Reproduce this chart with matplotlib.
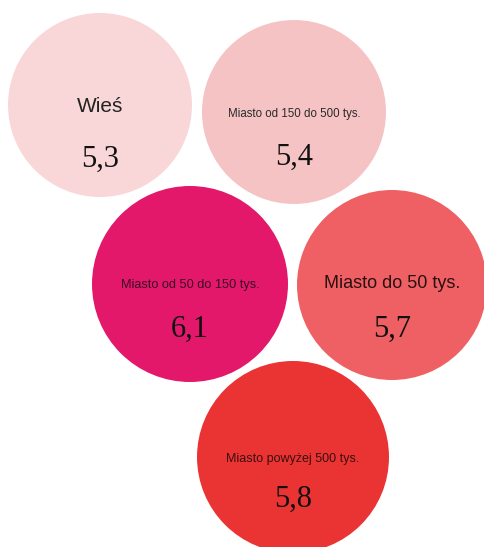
import matplotlib.pyplot as plt
from matplotlib.patches import Circle

# dane
kategorie = ['Wieś', 'Miasto od 150 do 500 tys.', 'Miasto od 50 do 150 tys.',
             'Miasto do 50 tys.', 'Miasto powyżej 500 tys.']
wartosci = [5.3, 5.4, 6.1, 5.7, 5.8]

# wygląd
kolory = ['#f9d7d8', '#f6c3c4', '#e4186a', '#ee6063', '#ea3434']
kolory_tekstu = ['#222222', '#2a2a2a', '#3a0a2a', '#2a1010', '#3a0e0e']
srodki = [(100, 105), (294, 112), (190, 284), (392, 285), (293, 457)]
promienie = [92, 92, 98, 95, 96]
rozmiar_etykiety = [15, 8.3, 9.2, 13, 9]
przesuniecie = [(2, 52), (2, 43), (1, 44), (-2, 46), (2, 40)]

fig = plt.figure(figsize=(4.84, 5.47), dpi=100)
ax = fig.add_axes([0, 0, 1, 1])
ax.set_xlim(0, 484)
ax.set_ylim(547, 0)
ax.set_aspect('equal')
ax.axis('off')

for i in range(len(kategorie)):
    x, y = srodki[i]
    ax.add_patch(Circle((x, y), promienie[i], color=kolory[i], lw=0))
    ly = y + przesuniecie[i][0]
    ax.text(x, ly, kategorie[i], ha='center', va='center',
            fontsize=rozmiar_etykiety[i], family='Liberation Sans',
            color=kolory_tekstu[i])
    ax.text(x, ly + przesuniecie[i][1], f'{wartosci[i]:.1f}'.replace('.', ','),
            ha='center', va='center', fontsize=22,
            family='Liberation Serif', color='#111111')

fig.savefig('out.png', dpi=100)
